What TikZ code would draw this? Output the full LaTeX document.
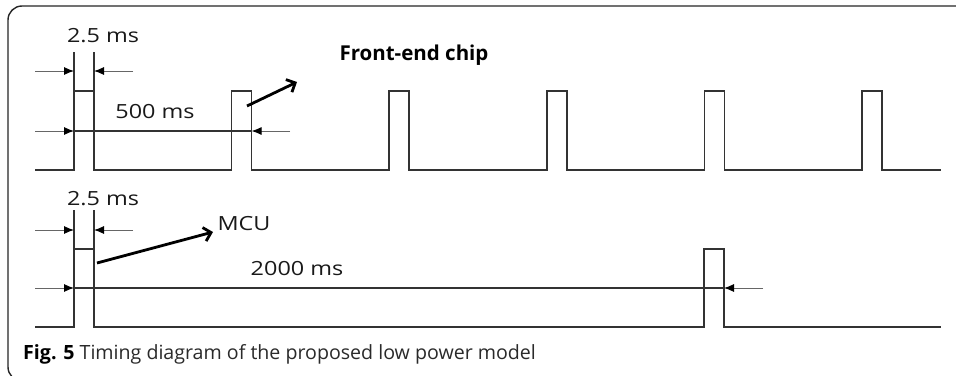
\documentclass[tikz,border=0pt]{standalone}
\usepackage{fontspec}
\setmainfont{Open Sans}
\newfontfamily\lblfont[FakeStretch=1.2]{Open Sans}
\usetikzlibrary{arrows.meta}
\definecolor{wave}{HTML}{333333}
\definecolor{dimc}{HTML}{666666}
\definecolor{captxt}{HTML}{2A2A2A}
\tikzset{
  wavestyle/.style={draw=wave, line width=1.7pt, line join=miter},
  dimline/.style={draw=dimc, line width=0.9pt, -{Latex[length=10pt,width=8pt,color=black]}},
  dimmain/.style={draw=wave, line width=1.4pt},
  callout/.style={draw=black, line width=2.8pt, -{Straight Barb[length=7pt,width=14pt,line width=2.8pt]}},
  lbl/.style={font=\lblfont\fontsize{19.5}{22}\selectfont, text=black!90, inner sep=0pt, anchor=base},
  framestyle/.style={draw=black!85, line width=1.4pt, rounded corners=14pt},
}
\begin{document}
\begin{tikzpicture}[x=1pt,y=-1pt]
\useasboundingbox (0,0) rectangle (956,375);
\fill[white] (0,0) rectangle (956,375);
\begin{scope}
\clip (0,0) rectangle (956,375);
\draw[framestyle] (970,6) -- (8,6) -- (8,381) -- (60,381);
\end{scope}

% ---- top waveform (front-end chip)
\draw[wavestyle] (35,170) -- (74,170) -- (74,91) -- (94,91) -- (94,170)
  -- (231.6,170) -- (231.6,91) -- (251.6,91) -- (251.6,170)
  -- (389.2,170) -- (389.2,91) -- (409.2,91) -- (409.2,170)
  -- (546.8,170) -- (546.8,91) -- (566.8,91) -- (566.8,170)
  -- (704.4,170) -- (704.4,91) -- (724.4,91) -- (724.4,170)
  -- (862,170) -- (862,91) -- (882,91) -- (882,170) -- (941,170);
\draw[wavestyle] (74,91) -- (74,52);
\draw[wavestyle] (94,91) -- (94,52);

\coordinate (tA) at (74,71);
\coordinate (tB) at (94,71);
\coordinate (tAs) at (35,71);
\coordinate (tBs) at (133,71);
\draw[dimline] (tAs) -- (tA);
\draw[dimline] (tBs) -- (tB);

\coordinate (pA) at (74,131);
\coordinate (pB) at (251.6,131);
\coordinate (pAs) at (35,131);
\coordinate (pBs) at (290,131);
\draw[dimmain] (pA) -- (pB);
\draw[dimline] (pAs) -- (pA);
\draw[dimline] (pBs) -- (pB);

\node[lbl] (t25) at (103,42) {2.5 ms};
\node[lbl] (t500) at (155,118) {500 ms};
\node[font=\bfseries\fontsize{20.5}{24}\selectfont, inner sep=0pt, anchor=base] (fec) at (414,60) {Front-end chip};
\coordinate (fa1) at (247,106);
\coordinate (fa2) at (297,82);
\draw[callout] (fa1) -- (fa2);

% ---- bottom waveform (MCU)
\draw[wavestyle] (35,327) -- (74,327) -- (74,249) -- (94,249) -- (94,327)
  -- (704,327) -- (704,249) -- (724,249) -- (724,327) -- (941,327);
\draw[wavestyle] (74,249) -- (74,210);
\draw[wavestyle] (94,249) -- (94,210);

\coordinate (bA) at (74,230);
\coordinate (bB) at (94,230);
\coordinate (bAs) at (35,230);
\coordinate (bBs) at (133,230);
\draw[dimline] (bAs) -- (bA);
\draw[dimline] (bBs) -- (bB);

\coordinate (qA) at (74,288);
\coordinate (qB) at (724,288);
\coordinate (qAs) at (35,288);
\coordinate (qBs) at (763,288);
\draw[dimmain] (qA) -- (qB);
\draw[dimline] (qAs) -- (qA);
\draw[dimline] (qBs) -- (qB);

\node[lbl] (b25) at (103,205) {2.5 ms};
\node[lbl] (mcu) at (244,230) {MCU};
\node[lbl] (b2000) at (297,275) {2000 ms};
\coordinate (ma1) at (97,263);
\coordinate (ma2) at (213,232);
\draw[callout] (ma1) -- (ma2);

% ---- caption
\node[font=\fontsize{19.6}{22}\selectfont, text=captxt, inner sep=0pt, anchor=base west] (cap) at (23,359)
  {\textcolor{black}{\textbf{Fig. 5}} Timing diagram of the proposed low power model};
\end{tikzpicture}
\end{document}
